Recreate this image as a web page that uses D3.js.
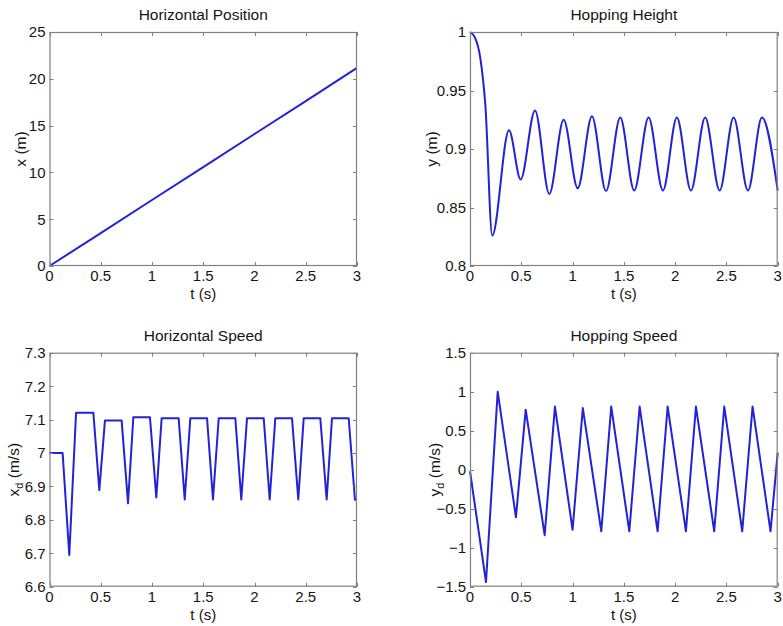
<!DOCTYPE html>
<html>
<head>
<meta charset="utf-8">
<script src="https://cdn.jsdelivr.net/npm/d3@7"></script>
<style>
  html, body { margin: 0; padding: 0; background: #fff; }
  svg { display: block; font-family: "Liberation Sans", Arial, sans-serif; }
</style>
</head>
<body>
<svg id="chart" width="783" height="626"></svg>
<script>
// ---- Simulation traces of the hopping robot (time in seconds) ----
const timeTicks = [0, 0.5, 1, 1.5, 2, 2.5, 3];

// Horizontal position x(t), metres
const posTime = [0, 0.5, 1, 1.5, 2, 2.5, 3];
const posX    = [0, 3.52, 7.05, 10.57, 14.1, 17.62, 21.17];
const posTicks = [0, 5, 10, 15, 20, 25];

// Hopping height y(t), metres (turning points of the bounce)
const heightTime = [0, 0.05, 0.1, 0.15, 0.217, 0.38, 0.494, 0.634, 0.773, 0.913, 1.05, 1.189,
                    1.326, 1.465, 1.601, 1.741, 1.881, 2.017, 2.154, 2.293, 2.434, 2.570,
                    2.71, 2.846, 3.0];
const heightY    = [1.0, 0.995, 0.978, 0.937, 0.826, 0.916, 0.874, 0.933, 0.8615, 0.925, 0.8665, 0.928,
                    0.864, 0.927, 0.8645, 0.927, 0.8645, 0.927, 0.8645, 0.927, 0.8645, 0.927,
                    0.8645, 0.927, 0.8645];
const heightTicks = [0.8, 0.85, 0.9, 0.95, 1];

// Horizontal speed (m/s)
const hSpeedTime = [0, 0.128, 0.193, 0.259, 0.428, 0.486, 0.541, 0.704, 0.766, 0.818, 0.98,
                    1.042, 1.094, 1.26, 1.319, 1.374, 1.537, 1.595, 1.651, 1.813, 1.871, 1.927,
                    2.09, 2.148, 2.203, 2.366, 2.427, 2.48, 2.642, 2.704, 2.756, 2.919, 2.98, 3.0];
const hSpeedV    = [7.0, 7.0, 6.695, 7.12, 7.12, 6.889, 7.097, 7.097, 6.85, 7.107, 7.107,
                    6.867, 7.104, 7.104, 6.861, 7.104, 7.104, 6.861, 7.104, 7.104, 6.861, 7.104,
                    7.104, 6.861, 7.104, 7.104, 6.861, 7.104, 7.104, 6.861, 7.104, 7.104, 6.86, 6.86];
const hSpeedTicks = [6.6, 6.7, 6.8, 6.9, 7, 7.1, 7.2, 7.3];

// Hopping (vertical) speed (m/s)
const vSpeedTime = [0, 0.156, 0.27, 0.448, 0.543, 0.728, 0.828, 1.0, 1.10, 1.28, 1.377, 1.553,
                    1.654, 1.829, 1.927, 2.105, 2.203, 2.381, 2.479, 2.654, 2.755, 2.93, 3.0];
const vSpeedV    = [-0.02, -1.44, 1.0, -0.61, 0.77, -0.84, 0.81, -0.77, 0.79, -0.79, 0.81, -0.79,
                    0.81, -0.79, 0.81, -0.79, 0.81, -0.79, 0.81, -0.79, 0.81, -0.79, 0.22];
const vSpeedTicks = [-1.5, -1, -0.5, 0, 0.5, 1, 1.5];

// ---- Drawing ----
const svg = d3.select("#chart");
const AXIS = "#808080", TEXT = "#151515", LINE = "#2222d6";
const FONT = 15, TITLE = 15.5, TICK = 4;

function panel(o) {
  const x = d3.scaleLinear().domain([0, 3]).range([o.left, o.right]);
  const y = d3.scaleLinear().domain(o.domain).range([o.bottom, o.top]);
  const g = svg.append("g");

  // plot area
  g.append("rect")
    .attr("x", o.left).attr("y", o.top)
    .attr("width", o.right - o.left).attr("height", o.bottom - o.top)
    .attr("fill", "#fff");

  // data trace
  const line = d3.line()
    .x((d, i) => x(o.t[i]))
    .y(d => y(d))
    .curve(o.curve || d3.curveLinear);
  g.append("path")
    .datum(o.v)
    .attr("d", line)
    .attr("fill", "none")
    .attr("stroke", LINE)
    .attr("stroke-width", 2)
    .attr("stroke-linejoin", "round");

  // inward ticks on all four sides (box style)
  const tk = g.append("g").attr("stroke", AXIS).attr("stroke-width", 1);
  timeTicks.forEach(t => {
    const px = Math.round(x(t)) + 0.5;
    tk.append("line").attr("x1", px).attr("x2", px).attr("y1", o.bottom).attr("y2", o.bottom - TICK);
    tk.append("line").attr("x1", px).attr("x2", px).attr("y1", o.top).attr("y2", o.top + TICK);
  });
  o.ticks.forEach(v => {
    const py = Math.round(y(v)) + 0.5;
    tk.append("line").attr("x1", o.left).attr("x2", o.left + TICK).attr("y1", py).attr("y2", py);
    tk.append("line").attr("x1", o.right).attr("x2", o.right - TICK).attr("y1", py).attr("y2", py);
  });

  // box
  g.append("rect")
    .attr("x", o.left + 0.5).attr("y", o.top + 0.5)
    .attr("width", o.right - o.left - 1).attr("height", o.bottom - o.top - 1)
    .attr("fill", "none").attr("stroke", AXIS).attr("stroke-width", 1.2);

  // tick labels
  const fmt = d3.format("~g");
  g.selectAll(".xt").data(timeTicks).enter().append("text")
    .attr("x", d => x(d)).attr("y", o.bottom + 15)
    .attr("text-anchor", "middle").attr("font-size", FONT).attr("fill", TEXT)
    .text(d => fmt(d));
  g.selectAll(".yt").data(o.ticks).enter().append("text")
    .attr("x", o.left - 4).attr("y", d => y(d)).attr("dy", "0.36em")
    .attr("text-anchor", "end").attr("font-size", FONT).attr("fill", TEXT)
    .text(d => fmt(d));

  // title and axis labels
  g.append("text")
    .attr("x", (o.left + o.right) / 2).attr("y", o.top - 12)
    .attr("text-anchor", "middle").attr("font-size", TITLE).attr("fill", TEXT)
    .text(o.title);
  g.append("text")
    .attr("x", (o.left + o.right) / 2).attr("y", o.bottom + 33)
    .attr("text-anchor", "middle").attr("font-size", FONT).attr("fill", TEXT)
    .text("t (s)");
  const yl = g.append("text")
    .attr("transform", `translate(${o.left - o.ylabelOffset},${(o.top + o.bottom) / 2}) rotate(-90)`)
    .attr("text-anchor", "middle").attr("font-size", TITLE).attr("fill", TEXT);
  yl.append("tspan").text(o.ylabel[0]);
  if (o.ylabel[1]) {
    yl.append("tspan").attr("font-size", 11).attr("dy", 4).text(o.ylabel[1]);
    yl.append("tspan").attr("dy", -4).text(o.ylabel[2]);
  }
}

panel({ left: 49.5, right: 357, top: 32, bottom: 266,
        domain: [0, 25], ticks: posTicks, t: posTime, v: posX,
        title: "Horizontal Position", ylabel: ["x (m)"], ylabelOffset: 24 });

panel({ left: 470, right: 777.7, top: 32, bottom: 266,
        domain: [0.8, 1], ticks: heightTicks, t: heightTime, v: heightY,
        curve: d3.curveMonotoneX,
        title: "Hopping Height", ylabel: ["y (m)"], ylabelOffset: 33 });

panel({ left: 49.5, right: 357, top: 352.7, bottom: 586.7,
        domain: [6.6, 7.3], ticks: hSpeedTicks, t: hSpeedTime, v: hSpeedV,
        title: "Horizontal Speed", ylabel: ["x", "d", " (m/s)"], ylabelOffset: 31 });

panel({ left: 470, right: 777.7, top: 352.7, bottom: 586.7,
        domain: [-1.5, 1.5], ticks: vSpeedTicks, t: vSpeedTime, v: vSpeedV,
        title: "Hopping Speed", ylabel: ["y", "d", " (m/s)"], ylabelOffset: 30 });
</script>
</body>
</html>
